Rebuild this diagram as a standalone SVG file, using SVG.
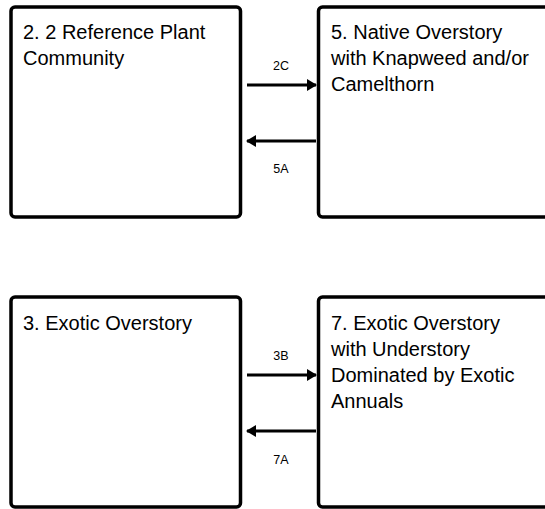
<svg xmlns="http://www.w3.org/2000/svg" width="545" height="509" viewBox="0 0 545 509">
<defs>
<marker id="ah" markerWidth="10" markerHeight="12" refX="9" refY="6" orient="auto" markerUnits="userSpaceOnUse">
<path d="M0,0 L10,6 L0,12 Z" fill="#000"/>
</marker>
<style>
.box{fill:#fff;stroke:#000;stroke-width:3.5}
.t{font-family:"Liberation Sans",Arial,sans-serif;font-size:20px;fill:#000}
.l{font-family:"Liberation Sans",Arial,sans-serif;font-size:12.5px;fill:#000;text-anchor:middle}
.c{stroke:#000;stroke-width:3;fill:none;marker-end:url(#ah)}
</style>
</defs>
<rect width="545" height="509" fill="#fff"/>
<g id="n2">
<rect class="box" x="11" y="7" width="229.5" height="210" rx="4"/>
<text class="t" x="23" y="39">2. 2 Reference Plant</text>
<text class="t" x="23" y="65">Community</text>
</g>
<g id="n5">
<rect class="box" x="318.5" y="7" width="260" height="210" rx="4"/>
<text class="t" x="331" y="39">5. Native Overstory</text>
<text class="t" x="331" y="65">with Knapweed and/or</text>
<text class="t" x="331" y="91">Camelthorn</text>
</g>
<g id="n3">
<rect class="box" x="11" y="297" width="229.5" height="210" rx="4"/>
<text class="t" x="23" y="330">3. Exotic Overstory</text>
</g>
<g id="n7">
<rect class="box" x="318.5" y="297" width="260" height="210" rx="4"/>
<text class="t" x="331" y="330">7. Exotic Overstory</text>
<text class="t" x="331" y="356">with Understory</text>
<text class="t" x="331" y="382">Dominated by Exotic</text>
<text class="t" x="331" y="408">Annuals</text>
</g>
<g id="connectors">
<line class="c" x1="247" y1="85" x2="316" y2="85"/>
<line class="c" x1="316" y1="141" x2="247" y2="141"/>
<line class="c" x1="247" y1="375" x2="316" y2="375"/>
<line class="c" x1="316" y1="431" x2="247" y2="431"/>
<text class="l" x="281" y="70">2C</text>
<text class="l" x="281" y="173">5A</text>
<text class="l" x="281" y="360">3B</text>
<text class="l" x="281" y="464">7A</text>
</g>
</svg>
